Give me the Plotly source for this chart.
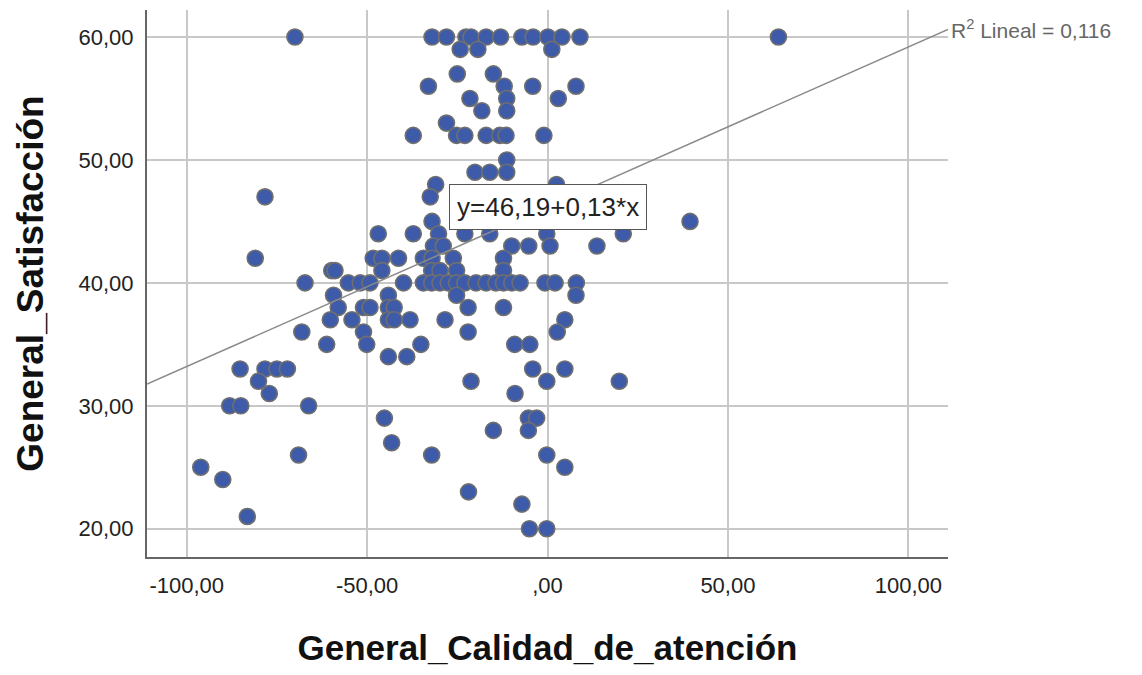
import plotly.graph_objects as go

# Scatter data: General_Calidad_de_atención (x) vs General_Satisfacción (y)
x_vals = [
    -70, -32, -28, -22.6, -21.2, -17, -13, -7.1, -4, 0.1, 4, 9, 64,
    -24.2, -19.3, 1.2,
    -25, -15,
    -33, -12, -4.1, 7.9,
    -21.5, -11.3, 3,
    -18.2, -11.3,
    -28,
    -37.2, -25.2, -22.9, -17, -13.2, -11.5, -1,
    -11.3,
    -20.1, -16, -11.3,
    -31, 2.5,
    -78.3, -32.5,
    -32, 39.5,
    -46.9, -37.2, -30.2, -22.9, -16, -0.2, 21,
    -31.6, -28.9, -9.9, -5.2, 0.7, 13.7,
    -81, -48.3, -45.9, -41.3, -34.4, -32, -26.1, -12.2,
    -59.8, -58.9, -45.9, -32.1, -29.8, -25.2, -12.2,
    -67.2, -55.2, -51.9, -49.2, -39.9, -34.4, -32.1, -29.8, -27.5, -25.2,
    -22.9, -19.8, -17, -14.3, -12.2, -9.9, -7.6, -0.7, 2.1, 8,
    -59.3, -44.1, -25.2, 7.9,
    -58, -51, -49.2, -44.1, -42.5, -22, -12.2,
    -60.2, -54.2, -44.1, -42.5, -38.1, -28.4, 4.8,
    -68.1, -51, -22, 2.7,
    -61.2, -50.1, -35.1, -9.1, -4.9,
    -44.1, -39,
    -85.2, -78.3, -75, -72.1, -4.1, 4.8,
    -80.1, -21.2, -0.2, 19.9,
    -77.1, -9,
    -88.1, -85, -66.2,
    -45.2, -5.3, -3,
    -15, -5.3,
    -43.2,
    -69, -32.1, -0.2,
    -96.1, 4.8,
    -90,
    -21.9,
    -7.1,
    -83.2,
    -5, -0.2,
]
y_vals = (
    [60] * 13 + [59] * 3 + [57] * 2 + [56] * 4 + [55] * 3 + [54] * 2 + [53] * 1
    + [52] * 7 + [50] * 1 + [49] * 3 + [48] * 2 + [47] * 2 + [45] * 2 + [44] * 7
    + [43] * 6 + [42] * 8 + [41] * 7 + [40] * 20 + [39] * 4 + [38] * 7 + [37] * 7
    + [36] * 4 + [35] * 5 + [34] * 2 + [33] * 6 + [32] * 4 + [31] * 2 + [30] * 3
    + [29] * 3 + [28] * 2 + [27] * 1 + [26] * 3 + [25] * 2 + [24] * 1 + [23] * 1
    + [22] * 1 + [21] * 1 + [20] * 2
)

# Fit line (as reported)
intercept = 46.19
slope = 0.13
r2_text = "R<sup>2</sup> Lineal = 0,116"
eq_text = "y=46,19+0,13*x"

x_tickvals = [-100, -50, 0, 50, 100]
x_ticktext = ["-100,00", "-50,00", ",00", "50,00", "100,00"]
y_tickvals = [20, 30, 40, 50, 60]
y_ticktext = ["20,00", "30,00", "40,00", "50,00", "60,00"]

x_range = [-111, 111]
y_range = [17.7, 62.2]

FONT = "Liberation Sans, Arial, sans-serif"

fig = go.Figure()
fig.add_trace(go.Scatter(
    x=x_vals, y=y_vals, mode="markers",
    marker=dict(size=16, color="#3d5ba9", line=dict(color="#6f6f6f", width=1.6)),
    showlegend=False, hoverinfo="x+y",
))
line_x = x_range
line_y = [intercept + slope * v for v in line_x]
fig.add_trace(go.Scatter(
    x=line_x, y=line_y, mode="lines",
    line=dict(color="#8a8a8a", width=1.5),
    showlegend=False, hoverinfo="skip", cliponaxis=False,
))

fig.add_annotation(
    x=0, y=intercept, xref="x", yref="y", text=eq_text, showarrow=False,
    font=dict(family=FONT, size=26, color="#222222"),
    bgcolor="white", bordercolor="#555555", borderwidth=1, borderpad=7,
    xanchor="center", yanchor="middle",
)
fig.add_annotation(
    x=x_range[1], y=intercept + slope * x_range[1], xref="x", yref="y",
    text=r2_text, showarrow=False,
    font=dict(family=FONT, size=21, color="#666666"),
    xanchor="left", yanchor="middle", xshift=1,
)

fig.update_layout(
    width=1142, height=675,
    margin=dict(l=147, r=194, t=10, b=118),
    paper_bgcolor="white", plot_bgcolor="white",
    font=dict(family=FONT, color="#222222"),
)
fig.update_xaxes(
    range=x_range, tickvals=x_tickvals, ticktext=x_ticktext,
    showgrid=True, gridcolor="#c8c8c8", gridwidth=1.5,
    zeroline=False, showline=True, linecolor="#666666", linewidth=2,
    ticks="", tickfont=dict(size=22, family=FONT, color="#222222"),
    ticklabelstandoff=8,
    title=dict(text="<b>General_Calidad_de_atención</b>",
               font=dict(size=35, family=FONT, color="#111111"), standoff=38),
)
fig.update_yaxes(
    range=y_range, tickvals=y_tickvals, ticktext=y_ticktext,
    showgrid=True, gridcolor="#c8c8c8", gridwidth=1.5,
    zeroline=False, showline=True, linecolor="#666666", linewidth=2,
    ticks="", tickfont=dict(size=22, family=FONT, color="#222222"),
    ticklabelstandoff=7,
    title=dict(text="<b>General_Satisfacción</b>",
               font=dict(size=37, family=FONT, color="#111111"), standoff=24),
)

fig.write_html("out.html")
